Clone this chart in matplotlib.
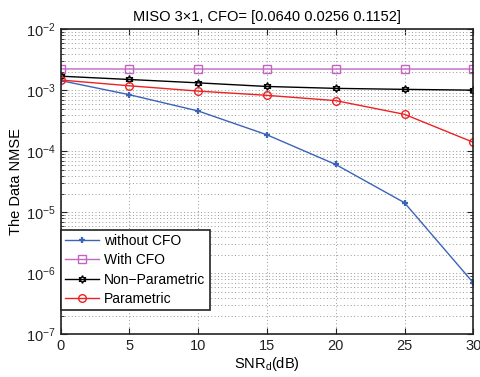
import matplotlib
matplotlib.use('Agg')
import matplotlib.pyplot as plt
from matplotlib.ticker import LogLocator, NullFormatter, FixedLocator

# ========== Font Settings ==========
plt.rcParams['font.family'] = ['Liberation Sans', 'DejaVu Sans']
plt.rcParams['mathtext.fontset'] = 'custom'
plt.rcParams['mathtext.rm'] = 'Liberation Sans'
plt.rcParams['mathtext.it'] = 'Liberation Sans:italic'
plt.rcParams['axes.unicode_minus'] = True

# ========== Data ==========
snr = [0, 5, 10, 15, 20, 25, 30]
without_cfo = [1.45e-3, 8.5e-4, 4.6e-4, 1.87e-4, 6.1e-5, 1.44e-5, 7.0e-7]
with_cfo = [2.25e-3, 2.24e-3, 2.24e-3, 2.24e-3, 2.24e-3, 2.24e-3, 2.24e-3]
non_parametric = [1.71e-3, 1.51e-3, 1.33e-3, 1.16e-3, 1.08e-3, 1.04e-3, 1.01e-3]
parametric = [1.48e-3, 1.19e-3, 9.75e-4, 8.3e-4, 6.8e-4, 4.05e-4, 1.41e-4]

series_labels = ['without CFO', 'With CFO', 'Non\u2212Parametric', 'Parametric']

# ========== Figure ==========
fig = plt.figure(figsize=(4.81, 3.77), dpi=100)
ax = fig.add_axes([0.126, 0.113, 0.858, 0.809])

ax.semilogy(snr, without_cfo, color='#3A64B8', marker='+', ms=5, mew=1.6,
            lw=1.0, label=series_labels[0])
ax.semilogy(snr, with_cfo, color='#C266C2', marker='s', ms=5.5, mfc='none',
            mew=1.0, lw=1.0, label=series_labels[1])
ax.semilogy(snr, non_parametric, color='black', marker=(6, 1, 0), ms=5.5,
            mfc='none', mew=1.0, lw=1.0, label=series_labels[2])
ax.semilogy(snr, parametric, color='#EE2222', marker='o', ms=5.5, mfc='none',
            mew=1.0, lw=1.0, label=series_labels[3])

ax.set_xlim(0, 30)
ax.set_ylim(1e-7, 1e-2)
ax.xaxis.set_major_locator(FixedLocator(snr))
ax.yaxis.set_major_locator(LogLocator(base=10, numticks=10))
ax.yaxis.set_minor_locator(LogLocator(base=10, subs=range(2, 10), numticks=20))
ax.yaxis.set_minor_formatter(NullFormatter())

ax.tick_params(which='both', direction='in', top=True, right=True,
               labelsize=10.5, colors='#222222')
ax.tick_params(which='major', length=4)
ax.tick_params(which='minor', length=2)

grid_style = dict(linestyle=(0, (1, 2.5)), color='#999999', lw=0.7)
ax.grid(True, which='major', **grid_style)
ax.grid(True, which='minor', axis='y', **grid_style)

for sp in ax.spines.values():
    sp.set_linewidth(1.2)
    sp.set_color('#222222')

ax.set_title('MISO 3\u00d71, CFO= [0.0640 0.0256 0.1152]', fontsize=10.5, pad=6)
ax.set_xlabel('SNR$_\\mathrm{d}$(dB)', fontsize=10.5, labelpad=1)
ax.set_ylabel('The Data NMSE', fontsize=10.5, labelpad=2)

leg = ax.legend(loc='lower left', bbox_to_anchor=(0.0, 0.08), borderaxespad=0,
                fancybox=False, framealpha=1, edgecolor='#222222', fontsize=10,
                handlelength=2.5, handletextpad=0.35, labelspacing=0.38,
                borderpad=0.3)
leg.get_frame().set_linewidth(1.2)

fig.savefig('out.png', dpi=100)
